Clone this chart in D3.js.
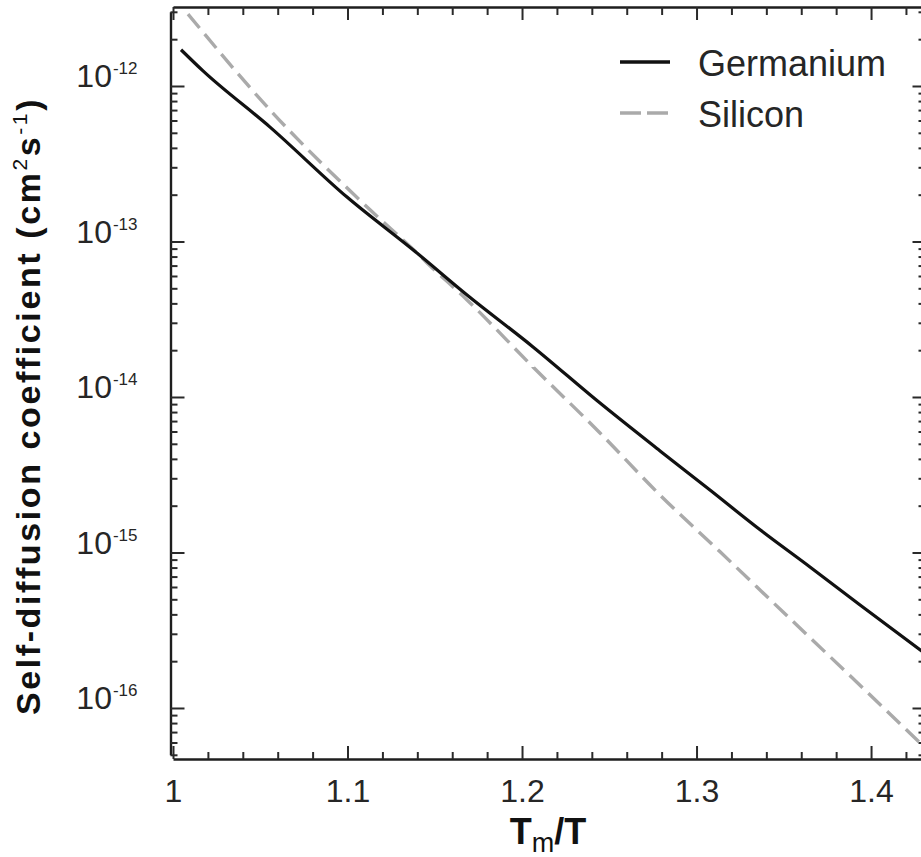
<!DOCTYPE html>
<html>
<head>
<meta charset="utf-8">
<script src="https://cdn.jsdelivr.net/npm/d3@7"></script>
<style>
  html, body { margin: 0; padding: 0; background: #fff; }
  svg { display: block; font-family: "Liberation Sans", Arial, sans-serif; }
  .axis path { stroke: #1e1e1e; stroke-width: 2.4; }
  .axis line { stroke: #2a2a2a; stroke-width: 2; }
  .axis text { fill: #262626; font-size: 32px; font-family: "Liberation Sans", Arial, sans-serif; }
</style>
</head>
<body>
<svg id="chart" width="921" height="857"></svg>
<script>
// values (x = Tm/T, D in cm^2 s^-1)
const germaniumX = [1.0046, 1.0172, 1.0556, 1.0997, 1.1398, 1.1685, 1.2063, 1.2447, 1.2791, 1.3077, 1.3364, 1.3650, 1.3937, 1.4300];
const germaniumD = [1.71e-12, 1.25e-12, 5.44e-13, 1.93e-13, 8.43e-14, 4.53e-14, 2.10e-14, 9.14e-15, 4.50e-15, 2.52e-15, 1.40e-15, 8.07e-16, 4.60e-16, 2.28e-16];
const siliconX = [1.0086, 1.0556, 1.1129, 1.1398, 1.1456, 1.1685, 1.2063, 1.2447, 1.2791, 1.3135, 1.3496, 1.3880, 1.4300];
const siliconD = [2.90e-12, 7.01e-13, 1.60e-13, 8.43e-14, 7.28e-14, 4.21e-14, 1.56e-14, 5.87e-15, 2.34e-15, 1.01e-15, 4.14e-16, 1.61e-16, 5.68e-17];

const xMajorTicks = [1, 1.1, 1.2, 1.3, 1.4];
const xTickLabels = ["1", "1.1", "1.2", "1.3", "1.4"];
const yDecades = [1e-16, 1e-15, 1e-14, 1e-13, 1e-12];
const seriesNames = ["Germanium", "Silicon"];

const svg = d3.select("#chart");

const x = d3.scaleLinear().domain([1, 1.43]).range([173, 923.4]);
const y = d3.scaleLog().domain([5e-17, 3e-12]).range([754.8, 11.8]);

const xMinorTicks = d3.range(1, 1.431, 0.02).filter(v => !xMajorTicks.some(m => Math.abs(m - v) < 1e-6));
const yMinorTicks = y.ticks().filter(v => !yDecades.some(d => Math.abs(d - v) / d < 1e-6));

const leftX = 170.5, rightX = 925.5, topY = 7, bottomY = 759;

// bottom axis
svg.append("g").attr("class", "axis").attr("transform", `translate(0,${bottomY})`)
  .call(d3.axisBottom(x).tickValues(xMajorTicks).tickSizeInner(-13).tickSizeOuter(0).tickPadding(20)
    .tickFormat((d, i) => xTickLabels[i]));
svg.append("g").attr("class", "axis").attr("transform", `translate(0,${bottomY})`)
  .call(d3.axisBottom(x).tickValues(xMinorTicks).tickSizeInner(-7).tickSizeOuter(0).tickFormat(""))
  .select(".domain").remove();

// top axis
svg.append("g").attr("class", "axis").attr("transform", `translate(0,${topY})`)
  .call(d3.axisTop(x).tickValues(xMajorTicks).tickSizeInner(-13).tickSizeOuter(0).tickFormat(""));
svg.append("g").attr("class", "axis").attr("transform", `translate(0,${topY})`)
  .call(d3.axisTop(x).tickValues(xMinorTicks).tickSizeInner(-8).tickSizeOuter(0).tickFormat(""))
  .select(".domain").remove();

// left axis
const leftMajor = svg.append("g").attr("class", "axis").attr("transform", `translate(${leftX},0)`)
  .call(d3.axisLeft(y).tickValues(yDecades).tickSizeInner(-14).tickSizeOuter(0).tickPadding(33).tickFormat(""));
svg.append("g").attr("class", "axis").attr("transform", `translate(${leftX},0)`)
  .call(d3.axisLeft(y).tickValues(yMinorTicks).tickSizeInner(-7).tickSizeOuter(0).tickFormat(""))
  .select(".domain").remove();

leftMajor.selectAll(".tick text")
  .attr("dy", "1")
  .each(function (d) {
    const t = d3.select(this);
    t.append("tspan").text("10");
    t.append("tspan").attr("dy", -13).attr("dx", 1).style("font-size", "17px")
      .text("-" + Math.abs(Math.round(Math.log10(d))));
  });

// right axis
svg.append("g").attr("class", "axis").attr("transform", `translate(${rightX},0)`)
  .call(d3.axisRight(y).tickValues(yDecades).tickSizeInner(-13).tickSizeOuter(0).tickFormat(""));
svg.append("g").attr("class", "axis").attr("transform", `translate(${rightX},0)`)
  .call(d3.axisRight(y).tickValues(yMinorTicks).tickSizeInner(-7).tickSizeOuter(0).tickFormat(""))
  .select(".domain").remove();

// curves
const line = d3.line().x(d => x(d[0])).y(d => y(d[1])).curve(d3.curveMonotoneX);

svg.append("path")
  .datum(siliconX.map((v, i) => [v, siliconD[i]]))
  .attr("fill", "none")
  .attr("stroke", "#aaaaaa")
  .attr("stroke-width", 3.4)
  .attr("stroke-dasharray", "18,8")
  .attr("d", line);

svg.append("path")
  .datum(germaniumX.map((v, i) => [v, germaniumD[i]]))
  .attr("fill", "none")
  .attr("stroke", "#111")
  .attr("stroke-width", 3.2)
  .attr("d", line);

// legend
const legend = svg.append("g").attr("class", "legend");
seriesNames.forEach((name, i) => {
  const ly = 62 + i * 51;
  legend.append("line")
    .attr("x1", 620).attr("x2", 670).attr("y1", ly).attr("y2", ly)
    .attr("stroke", i === 0 ? "#111" : "#aaaaaa")
    .attr("stroke-width", i === 0 ? 3.6 : 3.4)
    .attr("stroke-dasharray", i === 0 ? null : "21,6");
  legend.append("text")
    .attr("x", 698).attr("y", ly + 13.5)
    .attr("fill", "#262626")
    .style("font-size", "36px")
    .text(name);
});

// axis titles
const xTitle = svg.append("text")
  .attr("x", 548).attr("y", 844)
  .attr("text-anchor", "middle")
  .attr("fill", "#111")
  .style("font-size", "36px").style("font-weight", "bold");
xTitle.append("tspan").text("T");
xTitle.append("tspan").attr("dy", 8).style("font-size", "27px").style("font-weight", "normal").text("m");
xTitle.append("tspan").attr("dy", -8).text("/T");

const yTitle = svg.append("text")
  .attr("transform", "translate(40,406) rotate(-90)")
  .attr("text-anchor", "middle")
  .attr("fill", "#111")
  .style("font-size", "34px").style("font-weight", "bold")
  .style("letter-spacing", "2.6px");
yTitle.append("tspan").text("Self-diffusion coefficient (cm");
yTitle.append("tspan").attr("dy", -13).style("font-size", "21px").style("font-weight", "normal").text("2");
yTitle.append("tspan").attr("dy", 13).text("s");
yTitle.append("tspan").attr("dy", -13).style("font-size", "21px").style("font-weight", "normal").text("-1");
yTitle.append("tspan").attr("dy", 13).text(")");
</script>
</body>
</html>
